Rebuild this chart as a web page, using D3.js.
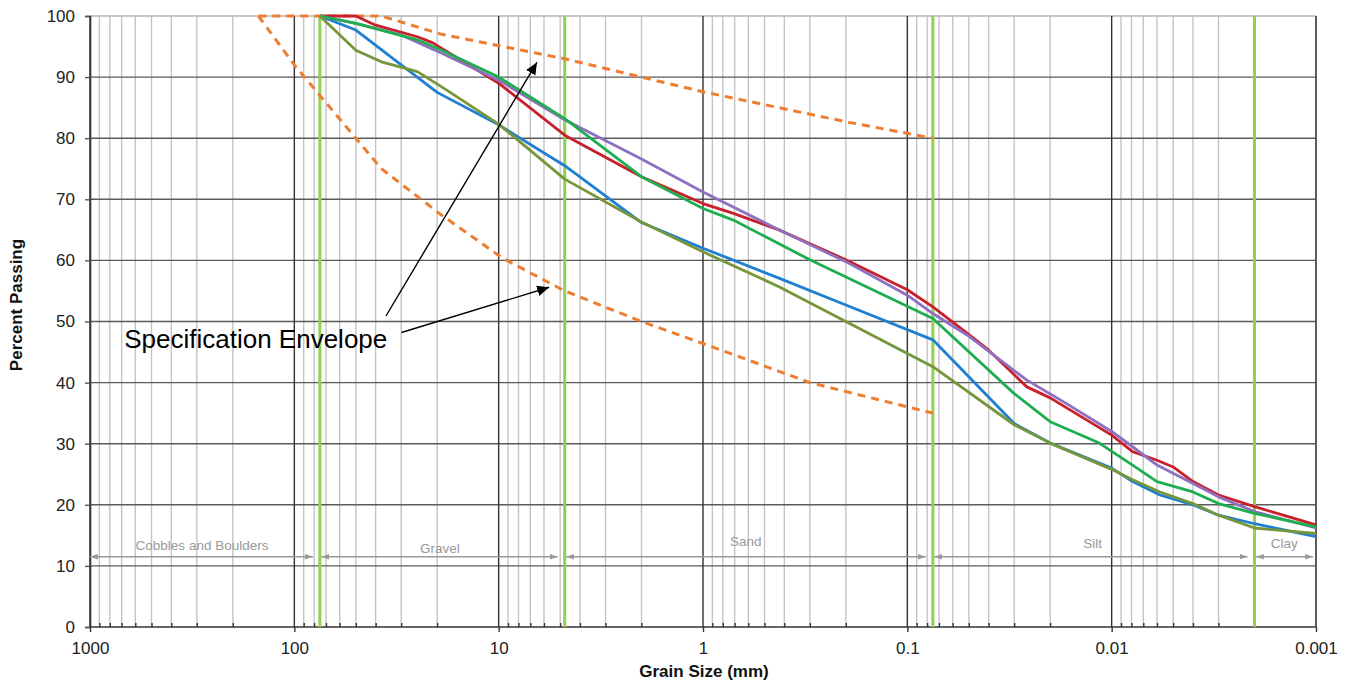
<!DOCTYPE html>
<html><head><meta charset="utf-8">
<script src="https://cdn.jsdelivr.net/npm/d3@7"></script>
<style>
html,body{margin:0;padding:0;background:#fff;}
svg{display:block;font-family:"Liberation Sans",Arial,sans-serif;}
</style></head>
<body><svg id="c" width="1354" height="686"></svg>
<script>
// ---------- DATA ----------
const yTicks = [0,10,20,30,40,50,60,70,80,90,100];
const xTickValues = [1000,100,10,1,0.1,0.01,0.001];
const xTickLabels = ["1000","100","10","1","0.1","0.01","0.001"];
const boundarySizes = [75, 4.75, 0.075, 0.002];      // green class boundaries (mm)
const zoneNames = ["Cobbles and Boulders","Gravel","Sand","Silt","Clay"];
const zoneEdges = [1000, 75, 4.75, 0.075, 0.002, 0.001];
const zoneLabelSize = [283, 19.4, 0.618, 0.0124, 0.00143];
const zoneLabelPct = [12.6, 12.1, 13.3, 12.9, 12.9];
const zoneArrowPct = 11.5;

const blueSize = [75,50,20,10,4.75,2,1,0.425,0.2,0.075,0.03,0.02,0.01,0.0079,0.0058,0.004,0.003,0.002,0.001];
const bluePct  = [100,97.7,87.5,82.2,75.5,66.2,62,57.1,52.7,47,33.3,30.1,26,23.8,21.6,20,18.3,16.9,14.8];

const redSize = [75,50,40,25,21,10,4.75,2,1,0.71,0.425,0.2,0.1,0.075,0.051,0.04,0.026,0.02,0.01,0.0079,0.006,0.005,0.004,0.003,0.002,0.001];
const redPct  = [100,100,98.5,96.6,95.6,89,80.5,73.7,69.3,67.7,65,60.1,55.2,52.4,48.1,45.3,39.3,37.5,31.4,28.7,27.3,26.2,23.8,21.6,19.7,16.7];

const purpleSize = [75,50,30,19,10,4.75,2,1,0.425,0.2,0.1,0.075,0.051,0.026,0.0167,0.01,0.0079,0.006,0.004,0.003,0.002,0.001];
const purplePct  = [100,98.8,96.9,93.9,89.5,83,76.6,71.2,65,59.8,54.3,51.3,47.8,40.4,36.6,32,29.5,26.5,23.5,21.3,18.9,16.2];

const greenSize = [75,50,25,19,10,4.75,2,1,0.71,0.3,0.075,0.03,0.02,0.0115,0.0079,0.006,0.004,0.003,0.002,0.001];
const greenPct  = [100,98.8,96.1,94.4,90,83.2,73.7,68.5,66.6,60.1,50.5,38.2,33.6,30.1,26.5,23.8,22.1,20.2,18.6,16.4];

const oliveSize = [75,50,37.5,25,19,10,4.75,2,1,0.425,0.2,0.075,0.03,0.02,0.01,0.0079,0.0058,0.004,0.003,0.002,0.001];
const olivePct  = [100,94.4,92.5,90.9,88.4,82.3,73.3,66.3,61.4,55.7,50,42.6,33.1,30.1,25.8,24.1,22.1,20.2,18.3,16.2,15.3];

const upperEnvSize = [150,37.5,19,9.5,4.75,2,1,0.2,0.075];
const upperEnvPct  = [100,100,97,95,93,90,87.6,82.7,80];
const lowerEnvSize = [150,100,75,50,37.5,19,9.5,4.75,2,1,0.3,0.15,0.075];
const lowerEnvPct  = [100,92,87,80,75,67.4,60.3,55,50,46.4,40,37.5,35];

const noteText = "Specification Envelope";
const noteAt = [680, 45.6];
const noteArrows = [ {from:[35.6,50.9], to:[6.5,92.4]}, {from:[29.9,48.2], to:[5.66,55.6]} ];

// ---------- CHART ----------
const svg = d3.select("#c");
const L=90, T=16, W=1226, H=611;
const x = d3.scaleLog().domain([1000,0.001]).range([L, L+W]);
const y = d3.scaleLinear().domain([0,100]).range([T+H, T]);

const minor = [];
for (let e=-3; e<3; e++) for (let m=2; m<=9; m++) minor.push(m*Math.pow(10,e));

const defs = svg.append("defs");
defs.append("marker").attr("id","ga").attr("viewBox","0 0 10 10").attr("refX",10).attr("refY",5)
  .attr("markerWidth",6).attr("markerHeight",6).attr("orient","auto-start-reverse")
  .append("path").attr("d","M0,1.5L10,5L0,8.5Z").attr("fill","#999");
defs.append("marker").attr("id","ba").attr("viewBox","0 0 10 10").attr("refX",10).attr("refY",5)
  .attr("markerWidth",12).attr("markerHeight",12).attr("markerUnits","userSpaceOnUse").attr("orient","auto")
  .append("path").attr("d","M0,0.5L10,5L0,9.5Z").attr("fill","#000");

const g = svg.append("g");
// minor verticals
g.selectAll("line.mv").data(minor).join("line")
  .attr("x1",d=>x(d)).attr("x2",d=>x(d)).attr("y1",T).attr("y2",T+H)
  .attr("stroke","#c4c4c4").attr("stroke-width",1.4);
// horizontal lines
g.selectAll("line.h").data(yTicks.filter(v=>v>0&&v<100)).join("line")
  .attr("x1",L).attr("x2",L+W).attr("y1",d=>y(d)).attr("y2",d=>y(d))
  .attr("stroke","#5a5a5a").attr("stroke-width",1.4);
g.append("line").attr("x1",L).attr("x2",L+W).attr("y1",y(100)).attr("y2",y(100))
  .attr("stroke","#b5b5b5").attr("stroke-width",1.4);
// major verticals
g.selectAll("line.Mv").data(xTickValues).join("line")
  .attr("x1",d=>x(d)).attr("x2",d=>x(d)).attr("y1",T).attr("y2",T+H)
  .attr("stroke","#333").attr("stroke-width",1.4);
// bottom line
g.append("line").attr("x1",L).attr("x2",L+W).attr("y1",y(0)).attr("y2",y(0))
  .attr("stroke","#333").attr("stroke-width",1.6);

// minor ticks (upward)
const mt = svg.append("g").attr("transform",`translate(0,${T+H})`)
  .call(d3.axisBottom(x).tickValues(minor).tickSize(-4).tickFormat(""));
mt.select(".domain").remove();
mt.selectAll(".tick line").attr("stroke","#333").attr("stroke-width",1.4);

// x axis labels
const xa = svg.append("g").attr("transform",`translate(0,${T+H})`)
  .call(d3.axisBottom(x).tickValues(xTickValues).tickSize(5).tickPadding(10)
    .tickFormat((d,i)=>xTickLabels[i]));
xa.select(".domain").remove();
xa.selectAll(".tick line").attr("stroke","#333").attr("stroke-width",1.4);
xa.selectAll("text").attr("font-size",17).attr("fill","#222").attr("font-family","Liberation Sans, Arial, sans-serif");

// y axis
const ya = svg.append("g").attr("transform",`translate(${L},0)`)
  .call(d3.axisLeft(y).tickValues(yTicks).tickSize(5).tickPadding(10));
ya.select(".domain").attr("stroke","#333").attr("stroke-width",1.6);
ya.selectAll(".tick line").attr("stroke","#555").attr("stroke-width",1.4);
ya.selectAll("text").attr("font-size",17).attr("fill","#222").attr("font-family","Liberation Sans, Arial, sans-serif");

// right border
g.append("line").attr("x1",L+W).attr("x2",L+W).attr("y1",T).attr("y2",T+H)
  .attr("stroke","#555").attr("stroke-width",1.4);

// green boundary lines
svg.append("g").selectAll("line").data(boundarySizes).join("line")
  .attr("x1",d=>x(d)).attr("x2",d=>x(d)).attr("y1",T).attr("y2",T+H)
  .attr("stroke","#92d050").attr("stroke-width",3);

// zone arrows and labels
const zg = svg.append("g");
zoneNames.forEach((n,i)=>{
  const x0 = x(zoneEdges[i]) + (i===0?0:1.5), x1 = x(zoneEdges[i+1]) - (i===4?3:7);
  zg.append("line").attr("x1",x0).attr("x2",x1).attr("y1",y(zoneArrowPct)).attr("y2",y(zoneArrowPct))
    .attr("stroke","#999").attr("stroke-width",1.3)
    .attr("marker-start","url(#ga)").attr("marker-end","url(#ga)");
  zg.append("text").attr("x",x(zoneLabelSize[i])).attr("y",y(zoneLabelPct[i]))
    .attr("text-anchor","middle").attr("font-size",13.5).attr("fill","#999").text(n);
});

// series
const line = d3.line().x(d=>x(d[0])).y(d=>y(d[1]));
const zip = (a,b)=>a.map((v,i)=>[v,b[i]]);
const env = svg.append("g");
[[upperEnvSize,upperEnvPct],[lowerEnvSize,lowerEnvPct]].forEach(([s,p])=>{
  env.append("path").attr("d",line(zip(s,p))).attr("fill","none")
    .attr("stroke","#ed7d31").attr("stroke-width",3).attr("stroke-dasharray","8,6");
});
const series = [
  [blueSize,bluePct,"#1f7fd2"],
  [redSize,redPct,"#c8202b"],
  [purpleSize,purplePct,"#8f6fbf"],
  [greenSize,greenPct,"#1fae4f"],
  [oliveSize,olivePct,"#76963b"]
];
const sg = svg.append("g");
series.forEach(([s,p,c])=>{
  sg.append("path").attr("d",line(zip(s,p))).attr("fill","none")
    .attr("stroke",c).attr("stroke-width",2.8).attr("stroke-linejoin","round");
});

// annotation
svg.append("text").attr("x",x(noteAt[0])).attr("y",y(noteAt[1]))
  .attr("font-size",26).attr("fill","#000").text(noteText);
noteArrows.forEach(a=>{
  svg.append("line").attr("x1",x(a.from[0])).attr("y1",y(a.from[1]))
    .attr("x2",x(a.to[0])).attr("y2",y(a.to[1]))
    .attr("stroke","#000").attr("stroke-width",1.4).attr("marker-end","url(#ba)");
});

// axis titles
svg.append("text").attr("x",704).attr("y",677).attr("text-anchor","middle")
  .attr("font-size",17).attr("font-weight","bold").attr("fill","#111").text("Grain Size (mm)");
svg.append("text").attr("transform","translate(22,305) rotate(-90)").attr("text-anchor","middle")
  .attr("font-size",17).attr("font-weight","bold").attr("fill","#111").text("Percent Passing");
</script></body></html>
